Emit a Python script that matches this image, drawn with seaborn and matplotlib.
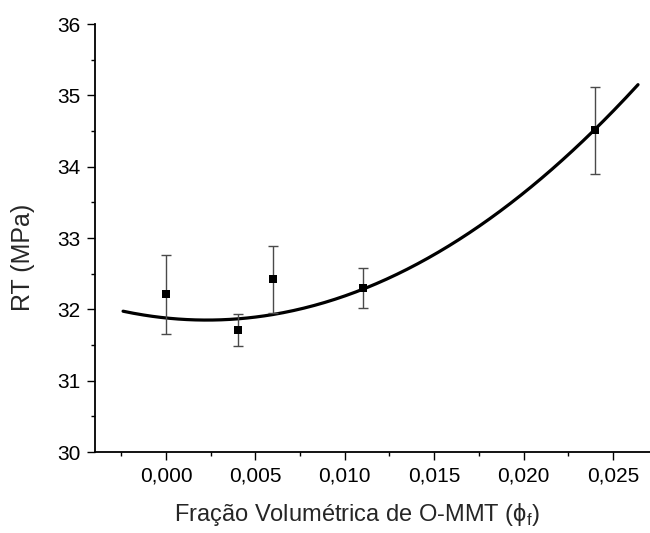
import numpy as np
import pandas as pd
import matplotlib
matplotlib.use("Agg")
import matplotlib.pyplot as plt
from matplotlib.ticker import MultipleLocator, FuncFormatter
import seaborn as sns

# Measured tensile strength vs. O-MMT volume fraction
phi = [0.000, 0.004, 0.006, 0.011, 0.024]
rt = [32.21, 31.71, 32.42, 32.30, 34.51]
rt_err = [0.55, 0.23, 0.47, 0.28, 0.61]

# Quadratic fit coefficients: RT = c0 + c1*phi + c2*phi^2
fit_c0 = 31.879
fit_c1 = -25.86
fit_c2 = 5672.0
fit_range = [-0.0024, 0.0264]

sns.set_style("ticks")
plt.rcParams["font.family"] = ["Liberation Sans", "DejaVu Sans"]
plt.rcParams["mathtext.fontset"] = "custom"
plt.rcParams["mathtext.rm"] = "Liberation Sans"

fig = plt.figure(figsize=(6.5, 5.33), dpi=100)
ax = fig.add_axes([95 / 650, 1 - 452 / 533, 1 - 95 / 650, (452 - 24) / 533])

xs = np.linspace(fit_range[0], fit_range[1], 300)
fit_df = pd.DataFrame({"phi": xs, "rt": fit_c0 + fit_c1 * xs + fit_c2 * xs ** 2})
sns.lineplot(data=fit_df, x="phi", y="rt", ax=ax, color="black", linewidth=2.3, zorder=2)

pts = pd.DataFrame({"phi": phi, "rt": rt, "err": rt_err})
ax.errorbar(pts["phi"], pts["rt"], yerr=pts["err"], fmt="none", ecolor="#4a4a4a",
            elinewidth=1.0, capsize=3.5, capthick=1.0, zorder=3)
sns.scatterplot(data=pts, x="phi", y="rt", ax=ax, marker="s", s=26, color="black",
                edgecolor="black", linewidth=0, zorder=4)

ax.set_xlim(-0.00397, 0.02707)
ax.set_ylim(30, 36)
ax.xaxis.set_major_locator(MultipleLocator(0.005))
ax.xaxis.set_minor_locator(MultipleLocator(0.0025))
ax.yaxis.set_major_locator(MultipleLocator(1))
ax.yaxis.set_minor_locator(MultipleLocator(0.5))
ax.xaxis.set_major_formatter(FuncFormatter(lambda v, p: f"{v:.3f}".replace(".", ",").replace("-0,000", "0,000")))
ax.yaxis.set_major_formatter(FuncFormatter(lambda v, p: f"{v:.0f}"))

ax.tick_params(axis="both", which="major", direction="out", length=6, width=1.0,
               labelsize=15, colors="black", pad=4.5)
ax.tick_params(axis="both", which="minor", direction="out", length=3, width=1.0, colors="black")

for side in ("top", "right"):
    ax.spines[side].set_visible(False)
for side in ("left", "bottom"):
    ax.spines[side].set_linewidth(1.3)
    ax.spines[side].set_color("black")

ax.set_xlabel(r"Fração Volumétrica de O-MMT (ϕ$_\mathregular{f}$)", fontsize=17, va="center")
ax.set_ylabel("RT (MPa)", fontsize=18, va="center")
ax.xaxis.set_label_coords((357 - 95) / 555, (452 - 515) / 428)
ax.yaxis.set_label_coords((23 - 95) / 555, (452 - 257) / 428)

fig.savefig("out.png", dpi=100, facecolor="white")
